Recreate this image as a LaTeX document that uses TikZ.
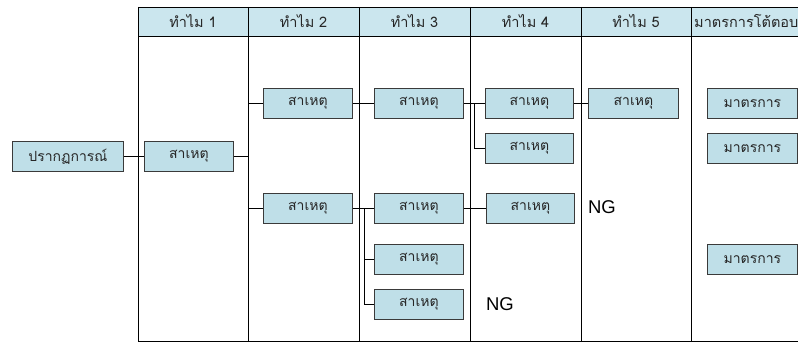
\documentclass[tikz,border=0pt]{standalone}
\usepackage{fontspec}
\newfontfamily\thai[Script=Thai]{Loma}
\newfontfamily\ngfont{Liberation Sans}
\definecolor{boxblue}{HTML}{BFDFE8}
\definecolor{headblue}{HTML}{CBE6EE}
\definecolor{edge}{HTML}{3A3A3A}
\begin{document}
\begin{tikzpicture}[x=1pt,y=-1pt,
  box/.style={draw=edge, line width=0.8pt, fill=boxblue, minimum width=89pt, minimum height=30pt,
    inner sep=0pt, anchor=north west, font=\thai\fontsize{14}{16}\selectfont, text=black!85},
  head/.style={font=\thai\fontsize{14.5}{16}\selectfont, inner sep=0pt, text=black!85},
  ng/.style={font=\ngfont\fontsize{18.5}{20}\selectfont, inner sep=0pt},
  grid/.style={draw=black, line width=0.8pt},
  conn/.style={draw=black, line width=0.8pt}]
\useasboundingbox (0,0) rectangle (798,342);
\begin{scope}
\clip (0,0) rectangle (798,342);
% table
\fill[headblue] (138,7) rectangle (800,36);
\draw[grid] (138,7) -- (800,7);
\draw[grid] (138,36) -- (800,36);
\draw[grid] (138,341) -- (800,341);
\foreach \x in {138,248,359,470,581,691} \draw[grid] (\x,7) -- (\x,341);
\coordinate (L2) at (248,0);
\coordinate (B3) at (364,0);
\coordinate (B4) at (474,0);
% headers
\node[head] (h1) at (193,21) {ทำไม 1};
\node[head] (h2) at (303.5,21) {ทำไม 2};
\node[head] (h3) at (414.5,21) {ทำไม 3};
\node[head] (h4) at (525.5,21) {ทำไม 4};
\node[head] (h5) at (636,21) {ทำไม 5};
\node[head, anchor=west] (h6) at (694,21) {มาตรการโต้ตอบ};
% boxes
\node[box, minimum width=111pt] (ph) at (12,141) {ปรากฏการณ์};
\node[box] (b1) at (144,141) {สาเหตุ};
\node[box] (c2a) at (263,88) {สาเหตุ};
\node[box] (c2b) at (263,193) {สาเหตุ};
\node[box] (c3a) at (374,88) {สาเหตุ};
\node[box] (c3b) at (374,193) {สาเหตุ};
\node[box] (c3c) at (374,244) {สาเหตุ};
\node[box] (c3d) at (374,289) {สาเหตุ};
\node[box, minimum width=88pt] (c4a) at (485,88) {สาเหตุ};
\node[box, minimum width=88pt] (c4b) at (485,133) {สาเหตุ};
\node[box, minimum width=88pt] (c4c) at (486,193) {สาเหตุ};
\node[box, minimum width=90pt] (c5a) at (588,88) {สาเหตุ};
\node[box, minimum width=90pt] (m1) at (707,88) {มาตรการ};
\node[box, minimum width=90pt] (m2) at (707,133) {มาตรการ};
\node[box, minimum width=90pt] (m3) at (707,244) {มาตรการ};
\node[ng] (ng1) at (602,207) {NG};
\node[ng] (ng2) at (500,304) {NG};
% connectors
\draw[conn] (ph.east) -- (b1.west);
\draw[conn] (b1.east) -- (b1.east -| L2) |- (c2a.west);
\draw[conn] (b1.east -| L2) |- (c2b.west);
\draw[conn] (c2a.east) -- (c3a.west);
\draw[conn] (c2b.east) -- (c3b.west);
\draw[conn] (c2b.east -| B3) |- (c3c.west);
\draw[conn] (c2b.east -| B3) |- (c3d.west);
\draw[conn] (c3a.east) -- (c4a.west);
\draw[conn] (c3a.east -| B4) |- (c4b.west);
\draw[conn] (c3b.east) -- (c4c.west);
\draw[conn] (c4a.east) -- (c5a.west);
\end{scope}
\end{tikzpicture}
\end{document}
